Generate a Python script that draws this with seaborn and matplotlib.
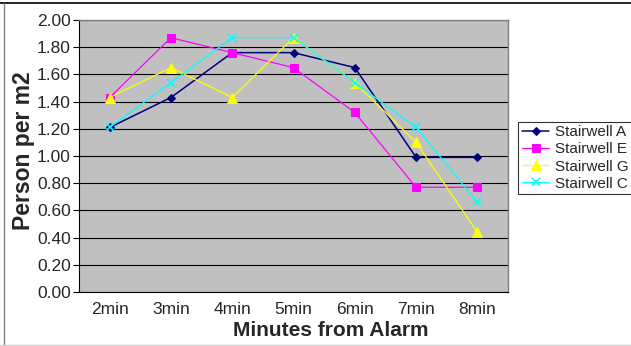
import numpy as np
import pandas as pd
import seaborn as sns
import matplotlib.pyplot as plt
from matplotlib.lines import Line2D
from matplotlib.ticker import FixedLocator, FormatStrFormatter

# Density on the stairwells after the alarm
minutes = ["2min", "3min", "4min", "5min", "6min", "7min", "8min"]
stair_a = [1.21, 1.43, 1.76, 1.76, 1.65, 0.99, 0.99]
stair_e = [1.43, 1.87, 1.76, 1.65, 1.32, 0.77, 0.77]
stair_g = [1.43, 1.65, 1.43, 1.87, 1.54, 1.10, 0.44]
stair_c = [1.21, 1.54, 1.87, 1.87, 1.54, 1.21, 0.66]

series = {
    "Stairwell A": stair_a,
    "Stairwell E": stair_e,
    "Stairwell G": stair_g,
    "Stairwell C": stair_c,
}
styles = {
    "Stairwell A": dict(color="#000080", marker="D", markersize=4.5, linewidth=1.1),
    "Stairwell E": dict(color="#FF00FF", marker="s", markersize=6, linewidth=0.9),
    "Stairwell G": dict(color="#FFFF00", marker="^", markersize=6.5, linewidth=0.9),
    "Stairwell C": dict(color="#00FFFF", marker="x", markersize=6, linewidth=0.9,
                        markeredgewidth=1.2),
}

df = pd.DataFrame({"Minute": minutes, **series})
long_df = df.melt(id_vars="Minute", var_name="Stairwell", value_name="Density")
long_df["pos"] = long_df["Minute"].map({m: i for i, m in enumerate(minutes)})

sns.set_style("white")
plt.rcParams["font.family"] = ["Liberation Sans", "DejaVu Sans"]

fig = plt.figure(figsize=(6.31, 3.46), dpi=100)
ax = fig.add_axes([79 / 631, 1 - 292 / 346, 429 / 631, 272 / 346])
ax.set_facecolor("#C0C0C0")

for name in series:
    sub = long_df[long_df["Stairwell"] == name]
    sns.lineplot(data=sub, x="pos", y="Density", ax=ax, label=name,
                 markeredgecolor=styles[name]["color"], **styles[name])

ax.set_xlim(-0.5, len(minutes) - 0.5)
ax.set_ylim(0, 2.0)
ax.set_yticks(np.arange(0, 2.01, 0.2))
ax.yaxis.set_major_formatter(FormatStrFormatter("%.2f"))
ax.set_xticks(range(len(minutes)))
ax.set_xticklabels(minutes)
ax.xaxis.set_minor_locator(FixedLocator(np.arange(-0.5, len(minutes), 1.0)))
ax.tick_params(axis="x", which="major", length=0, labelsize=12.5, pad=7)
ax.tick_params(axis="x", which="minor", length=4, width=0.8, color="black", direction="out")
ax.tick_params(axis="y", length=4, width=0.8, color="black", direction="out",
               labelsize=12.5, pad=2, left=True)
ax.grid(axis="y", color="black", linewidth=0.8)
ax.set_axisbelow(True)

for side in ["left", "bottom"]:
    ax.spines[side].set_color("black")
    ax.spines[side].set_linewidth(0.8)
for side in ["top", "right"]:
    ax.spines[side].set_color("#808080")
    ax.spines[side].set_linewidth(1.0)

ax.set_xlabel("Minutes from Alarm", fontsize=15, fontweight="bold")
ax.xaxis.set_label_coords((331 - 79) / 429, -0.105)
ax.set_ylabel("Person per m2", fontsize=16.5, fontweight="bold")
ax.yaxis.set_label_coords(-(79 - 35) / 429, 0.52)

ax.legend(loc="center left", bbox_to_anchor=(518 / 631, 1 - 158 / 346),
          bbox_transform=fig.transFigure, frameon=True, fancybox=False,
          edgecolor="black", fontsize=11, handlelength=1.8, handletextpad=0.4,
          borderpad=0.25, labelspacing=0.2, borderaxespad=0)
ax.get_legend().get_frame().set_linewidth(0.8)

# chart area border
fig.add_artist(Line2D([0, 1], [1 - 2.5 / 346] * 2, color="black", linewidth=1.2))
fig.add_artist(Line2D([3.5 / 631] * 2, [0, 1 - 2.5 / 346], color="#808080", linewidth=1.0))
fig.add_artist(Line2D([0, 1], [1.5 / 346] * 2, color="#D0D0D0", linewidth=1.0))

fig.savefig("out.png", dpi=100)
